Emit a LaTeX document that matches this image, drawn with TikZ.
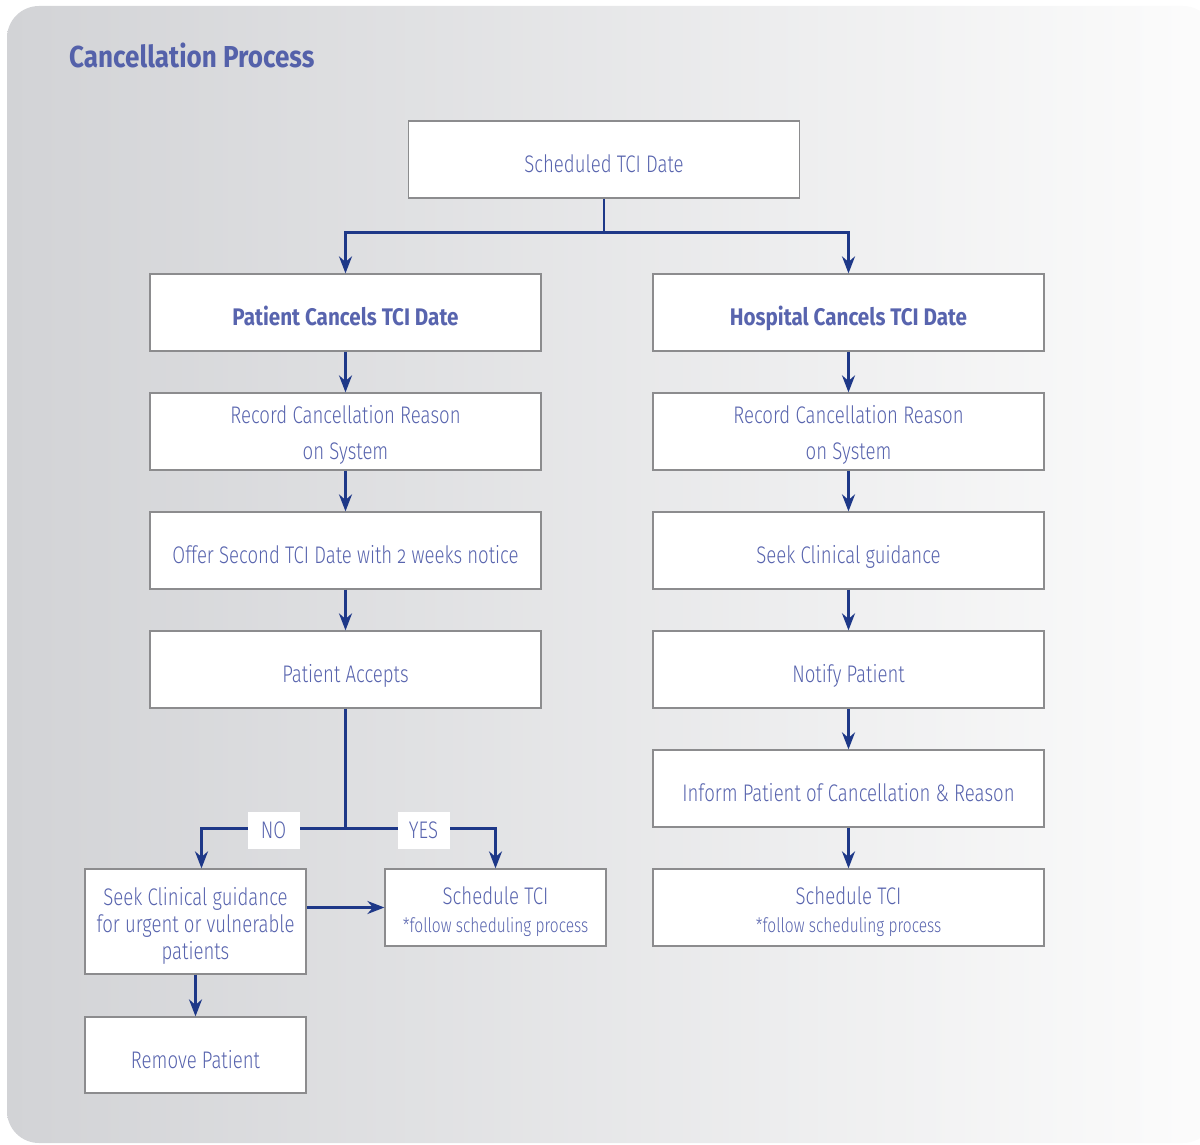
\documentclass[tikz,border=0pt]{standalone}
\usepackage{fontspec}
\setmainfont{Fira Sans}[UprightFont=* Light, BoldFont=* Bold, FakeStretch=0.775, Numbers=OldStyle, BoldFeatures={FakeStretch=0.86}]
\usetikzlibrary{arrows.meta,calc,positioning}
\definecolor{txtblue}{RGB}{88,100,174}
\definecolor{titleblue}{RGB}{84,97,170}
\definecolor{navy}{RGB}{30,56,136}
\definecolor{boxgray}{RGB}{140,140,142}
\definecolor{bgleft}{RGB}{210,211,214}
\definecolor{bgright}{RGB}{252,252,252}
\tikzset{
  boxtext/.style={text=txtblue, align=center, inner sep=0pt, yshift=-6pt,
    execute at begin node=\strut, execute at end node=\strut},
  boxf/.style n args={2}{draw=boxgray, line width=1.2pt, fill=white, inner sep=0pt,
    minimum width=391, minimum height=77, label={[boxtext, font=#2]center:{#1}}},
  box/.style={boxf={#1}{\fontsize{24}{36}\selectfont}},
  sched/.style={boxf={Schedule TCI\\{\fontsize{20}{24}\selectfont *follow scheduling process}}{\fontsize{24}{28}\selectfont}},
  narrow/.style={minimum width=221},
  line/.style={draw=navy, line width=2.6pt},
  arrow/.style={line, -{Stealth[length=17pt,width=13pt]}},
  lbl/.style={fill=white, text=txtblue, minimum width=52, minimum height=37,
    inner sep=0pt, font=\fontsize{24}{28}\selectfont},
}
\begin{document}
\begin{tikzpicture}[x=1pt,y=-1pt]
\useasboundingbox (0,0) rectangle (1200,1145);
\begin{scope}
\clip (0,0) rectangle (1200,1145);
\shade[left color=bgleft, right color=bgright, rounded corners=32pt] (7,6) rectangle (1215,1143);
\end{scope}
\node[anchor=base west, text=titleblue, inner sep=0pt, font=\bfseries\fontsize{30.3}{34}\selectfont] (title) at (69,68) {Cancellation Process};

\node[box={Scheduled TCI Date}] (top) at (604,159.5) {};
\node[box={\bfseries Patient Cancels TCI Date}] (pc) at (345.5,312.5) {};
\node[box={\bfseries Hospital Cancels TCI Date}] (hc) at (848.5,312.5) {};
\node[box={Record Cancellation Reason\\on System}] (pr) at (345.5,431.5) {};
\node[box={Record Cancellation Reason\\on System}] (hr) at (848.5,431.5) {};
\node[box={Offer Second TCI Date with 2 weeks notice}] (offer) at (345.5,550.5) {};
\node[box={Seek Clinical guidance}] (hseek) at (848.5,550.5) {};
\node[box={Patient Accepts}] (pa) at (345.5,669.5) {};
\node[box={Notify Patient}] (notify) at (848.5,669.5) {};
\node[box={Inform Patient of Cancellation \& Reason}] (inform) at (848.5,788.5) {};
\node[sched] (hsched) at (848.5,907.5) {};
\node[boxf={Seek Clinical guidance\\for urgent or vulnerable\\patients}{\fontsize{24}{27}\selectfont}, narrow, minimum height=105] (pseek) at (195.5,921.5) {};
\node[sched, narrow] (psched) at (495.5,907.5) {};
\node[box={Remove Patient}, narrow, minimum height=76] (remove) at (195.5,1055) {};

\coordinate (split) at ($(top.south)+(0,34)$);
\draw[line] (top.south) -- (split);
\draw[arrow] (split) -| (pc.north);
\draw[arrow] (split) -| (hc.north);
\draw[arrow] (pc) -- (pr);
\draw[arrow] (pr) -- (offer);
\draw[arrow] (offer) -- (pa);
\draw[arrow] (hc) -- (hr);
\draw[arrow] (hr) -- (hseek);
\draw[arrow] (hseek) -- (notify);
\draw[arrow] (notify) -- (inform);
\draw[arrow] (inform) -- (hsched);

\coordinate (split2) at ($(pa.south)+(0,120)$);
\draw[line] (pa.south) -- (split2);
\draw[arrow] (split2) -| ([xshift=6pt]pseek.north);
\draw[arrow] (split2) -| (psched.north);
\node[lbl, yshift=-2pt] (no) at ($(split2)+(-72,0)$) {NO};
\node[lbl, yshift=-2pt] (yes) at ($(split2)+(78,0)$) {YES};
\draw[arrow] (pseek.east |- psched.west) -- (psched.west);
\draw[arrow] (pseek) -- (remove);
\end{tikzpicture}
\end{document}
